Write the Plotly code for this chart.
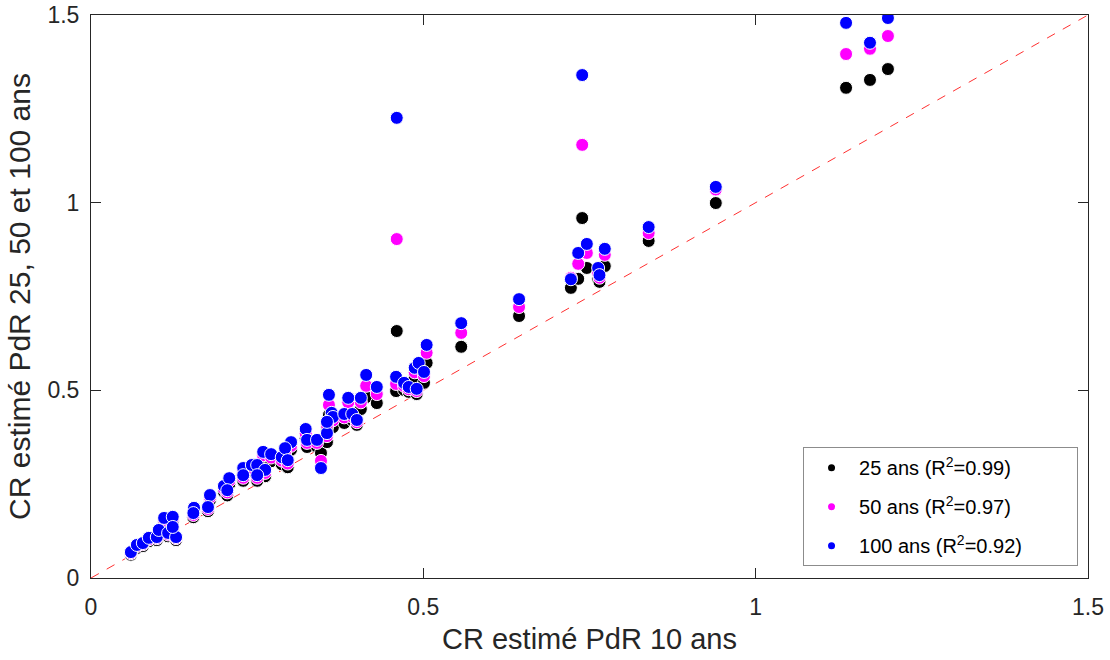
import plotly.graph_objects as go

# Data
x10 = [0.060, 0.069, 0.078, 0.087, 0.099, 0.102, 0.110, 0.123, 0.116, 0.128, 0.123,
       0.155, 0.154, 0.179, 0.176, 0.200, 0.208, 0.205, 0.229, 0.229, 0.242, 0.250,
       0.259, 0.271, 0.262, 0.250, 0.287, 0.301, 0.292, 0.296,
       0.323, 0.325, 0.340, 0.346, 0.355, 0.358, 0.362, 0.364, 0.355, 0.381, 0.387,
       0.393, 0.400, 0.406, 0.414, 0.430, 0.459, 0.460, 0.471, 0.478, 0.490, 0.487,
       0.493, 0.501, 0.505, 0.557, 0.644, 0.722, 0.733, 0.739, 0.746, 0.763, 0.765,
       0.773, 0.839, 0.940, 1.136, 1.172, 1.199]

y100 = [0.069, 0.088, 0.093, 0.107, 0.109, 0.128, 0.160, 0.163, 0.120, 0.109, 0.136,
        0.187, 0.173, 0.221, 0.189, 0.245, 0.266, 0.234, 0.293, 0.274, 0.301, 0.301,
        0.336, 0.330, 0.288, 0.274, 0.322, 0.362, 0.346, 0.314,
        0.397, 0.368, 0.368, 0.293, 0.386, 0.488, 0.440, 0.429, 0.416, 0.437, 0.480,
        0.437, 0.421, 0.480, 0.541, 0.509, 0.536, 1.226, 0.520, 0.509, 0.504, 0.560,
        0.573, 0.549, 0.621, 0.679, 0.743, 0.796, 0.866, 1.340, 0.890, 0.826, 0.807,
        0.877, 0.935, 1.042, 1.479, 1.426, 1.492]

y50 = [0.066, 0.085, 0.090, 0.103, 0.106, 0.124, 0.155, 0.158, 0.116, 0.106, 0.132,
       0.182, 0.168, 0.215, 0.184, 0.238, 0.259, 0.228, 0.285, 0.267, 0.293, 0.293,
       0.327, 0.321, 0.280, 0.267, 0.313, 0.352, 0.337, 0.305,
       0.385, 0.360, 0.360, 0.312, 0.378, 0.461, 0.432, 0.420, 0.408, 0.428, 0.468,
       0.430, 0.415, 0.468, 0.512, 0.490, 0.517, 0.903, 0.512, 0.503, 0.498, 0.548,
       0.562, 0.538, 0.600, 0.653, 0.722, 0.800, 0.837, 1.154, 0.866, 0.812, 0.800,
       0.861, 0.919, 1.035, 1.396, 1.410, 1.444]

y25 = [0.062, 0.080, 0.085, 0.098, 0.101, 0.119, 0.150, 0.152, 0.111, 0.101, 0.127,
       0.176, 0.162, 0.208, 0.178, 0.230, 0.250, 0.220, 0.276, 0.259, 0.284, 0.284,
       0.318, 0.311, 0.271, 0.259, 0.303, 0.342, 0.327, 0.295,
       0.372, 0.349, 0.350, 0.333, 0.362, 0.434, 0.420, 0.402, 0.400, 0.413, 0.445,
       0.421, 0.408, 0.450, 0.482, 0.466, 0.498, 0.658, 0.501, 0.496, 0.490, 0.533,
       0.549, 0.520, 0.573, 0.616, 0.698, 0.773, 0.797, 0.959, 0.826, 0.797, 0.789,
       0.831, 0.898, 0.999, 1.306, 1.327, 1.356]

ref_line = [0, 1.5]
tick_vals = [0, 0.5, 1, 1.5]
tick_text = ["0", "0.5", "1", "1.5"]

series_names = ["25 ans (R<sup>2</sup>=0.99)", "50 ans (R<sup>2</sup>=0.97)", "100 ans (R<sup>2</sup>=0.92)"]
series_colors = ["#000000", "#ff00ff", "#0000ff"]
series_values = [y25, y50, y100]
legend_pad = "&nbsp;" * 9

fig = go.Figure()

fig.add_trace(go.Scatter(x=ref_line, y=ref_line, mode="lines",
                         line=dict(color="#ff3030", width=1, dash="dash"),
                         showlegend=False, hoverinfo="skip"))

for name, col, yv in zip(series_names, series_colors, series_values):
    fig.add_trace(go.Scatter(x=x10, y=yv, mode="markers",
                             marker=dict(color=col, size=13, line=dict(color="white", width=1)),
                             showlegend=False, name=name))

for i, (name, col) in enumerate(zip(series_names, series_colors)):
    fig.add_trace(go.Scatter(x=[None], y=[None], mode="markers", name=name + legend_pad,
                             legendgroup="g%d" % i,
                             marker=dict(color=col, size=7)))

axis_common = dict(range=[0, 1.5], tickvals=tick_vals, ticktext=tick_text,
                   ticks="inside", ticklen=10, tickcolor="#262626",
                   showline=True, linecolor="#262626", linewidth=1, mirror="ticks",
                   showgrid=False, zeroline=False, automargin=False,
                   tickfont=dict(family="Liberation Sans, Arial", size=23, color="#262626"))

fig.update_layout(
    width=1110, height=660,
    margin=dict(l=91, r=22, t=15, b=82),
    paper_bgcolor="white", plot_bgcolor="white",
    font=dict(family="Liberation Sans, Arial", color="#262626"),
    xaxis=dict(**axis_common, ticklabelstandoff=8,
               title=dict(text="CR estimé PdR 10 ans", standoff=10,
                          font=dict(size=29, color="#262626"))),
    yaxis=dict(**axis_common, ticklabelstandoff=6,
               title=dict(text="CR estimé PdR 25, 50 et 100 ans", standoff=7,
                          font=dict(size=30, color="#262626"))),
    legend=dict(x=0.99, y=0.021, xanchor="right", yanchor="bottom",
                bgcolor="white", bordercolor="#8c8c8c", borderwidth=1,
                font=dict(family="Liberation Sans, Arial", size=20, color="#000000"),
                tracegroupgap=10, itemwidth=45),
)

fig.write_html("out.html")
